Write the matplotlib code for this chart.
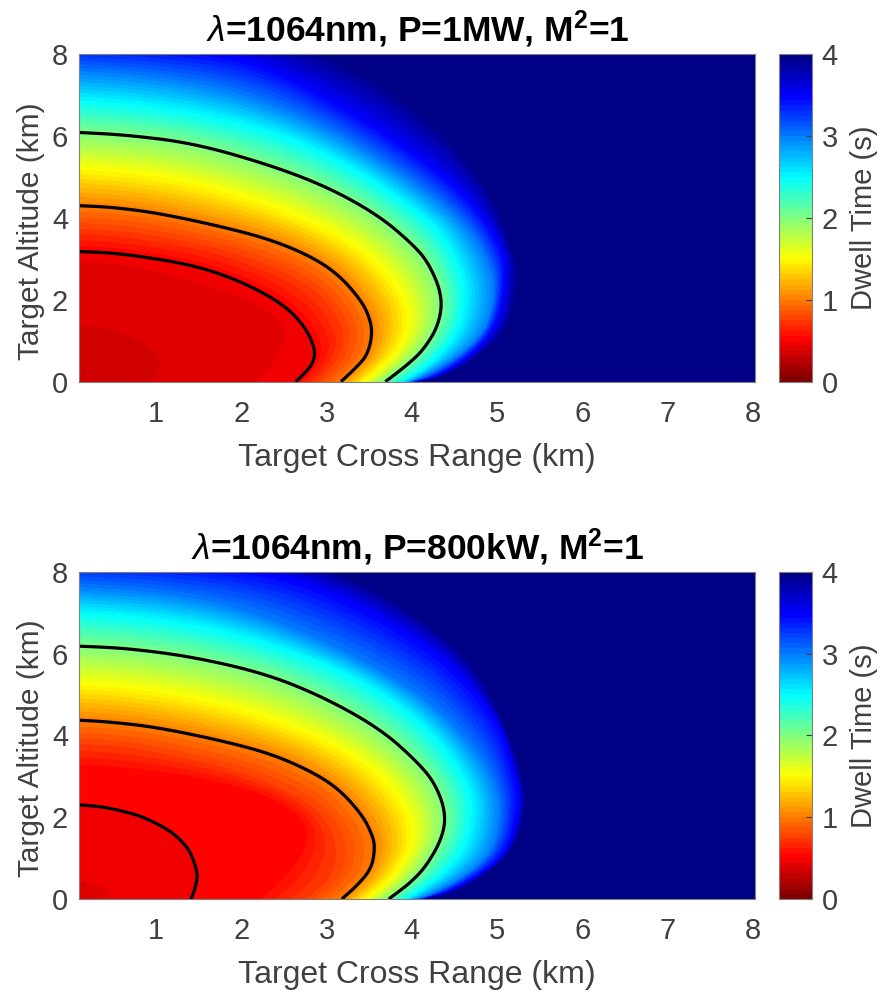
import numpy as np
import matplotlib
matplotlib.use("Agg")
from matplotlib import pyplot as plt
from matplotlib import cm
from matplotlib.colors import LinearSegmentedColormap, Normalize
import matplotlib.tri as mtri

plt.rcParams['font.family'] = ['Liberation Sans', 'DejaVu Sans']
plt.rcParams['mathtext.fontset'] = 'custom'
plt.rcParams['mathtext.rm'] = 'Liberation Sans:bold'
plt.rcParams['mathtext.it'] = 'Liberation Sans:italic'
plt.rcParams['mathtext.bf'] = 'Liberation Sans:bold'

# dwell time iso-curves, 13 stations each from the left edge
# round to the ground: cross range (km) and altitude (km)
top_x_0375 = [0.1, 0.25, 0.42, 0.6, 0.78, 0.92, 1.0, 1.04, 1.05, 1.04, 1.0, 0.98, 0.95]
top_y_0375 = [1.39, 1.36, 1.3, 1.2, 1.05, 0.88, 0.72, 0.55, 0.4, 0.27, 0.13, 0.07, 0.0]
top_x_04375 = [0.1, 0.4, 0.8, 1.3, 1.7, 2.05, 2.3, 2.48, 2.52, 2.47, 2.4, 2.3, 2.2]
top_y_04375 = [2.95, 2.92, 2.82, 2.55, 2.3, 2.05, 1.75, 1.45, 1.2, 0.85, 0.5, 0.25, 0.0]
top_x_05 = [0.1, 0.4, 0.8, 1.43, 1.9, 2.3, 2.55, 2.72, 2.82, 2.87, 2.83, 2.74, 2.64]
top_y_05 = [3.18, 3.16, 3.07, 2.85, 2.53, 2.13, 1.78, 1.4, 1.05, 0.7, 0.41, 0.2, 0.0]
top_x_075 = [0.1, 0.45, 0.9, 1.6, 2.1, 2.55, 2.85, 3.05, 3.17, 3.22, 3.15, 3.04, 2.9]
top_y_075 = [3.75, 3.72, 3.62, 3.35, 3.05, 2.65, 2.28, 1.85, 1.45, 1.1, 0.6, 0.3, 0.0]
top_x_1 = [0.1, 0.45, 1.0, 1.75, 2.35, 2.83, 3.15, 3.4, 3.5, 3.54, 3.48, 3.34, 3.17]
top_y_1 = [4.3, 4.27, 4.13, 3.8, 3.47, 3.05, 2.6, 2.0, 1.6, 1.18, 0.65, 0.33, 0.0]
top_x_15 = [0.1, 0.55, 1.2, 2.0, 2.7, 3.25, 3.6, 3.87, 3.95, 3.95, 3.8, 3.63, 3.44]
top_y_15 = [5.2, 5.14, 4.97, 4.55, 4.03, 3.45, 2.9, 2.2, 1.75, 1.2, 0.65, 0.32, 0.0]
top_x_2 = [0.1, 0.65, 1.43, 2.3, 3.0, 3.6, 4.0, 4.2, 4.36, 4.32, 4.14, 3.93, 3.69]
top_y_2 = [6.09, 6.03, 5.83, 5.32, 4.77, 4.08, 3.38, 2.9, 2.1, 1.4, 0.78, 0.38, 0.0]
top_x_25 = [0.1, 0.8, 1.7, 2.6, 3.4, 3.95, 4.32, 4.58, 4.64, 4.55, 4.28, 4.03, 3.9]
top_y_25 = [6.89, 6.8, 6.5, 5.98, 5.15, 4.35, 3.75, 2.8, 2.07, 1.19, 0.53, 0.15, 0.0]
top_x_3 = [0.1, 0.9, 1.9, 2.9, 3.7, 4.25, 4.7, 4.93, 4.98, 4.86, 4.55, 4.16, 4.0]
top_y_3 = [7.6, 7.5, 7.15, 6.35, 5.35, 4.55, 3.71, 2.8, 2.07, 1.19, 0.6, 0.12, 0.0]
top_x_35 = [0.1, 1.1, 2.2, 3.23, 4.0, 4.51, 4.86, 5.1, 5.1, 5.02, 4.75, 4.32, 4.05]
top_y_35 = [8.3, 8.2, 7.9, 6.72, 5.66, 4.85, 4.02, 3.14, 2.41, 1.43, 0.7, 0.12, 0.0]
top_x_4 = [0.1, 1.5, 2.5, 3.5, 4.2, 4.7, 5.0, 5.21, 5.27, 5.17, 4.86, 4.4, 4.1]
top_y_4 = [8.9, 8.7, 8.4, 7.6, 6.5, 5.4, 4.4, 3.14, 2.49, 1.34, 0.7, 0.12, 0.0]

bot_x_04375 = [0.1, 0.16, 0.22, 0.28, 0.34, 0.38, 0.4, 0.42, 0.43, 0.43, 0.44, 0.44, 0.44]
bot_y_04375 = [0.46, 0.45, 0.42, 0.38, 0.34, 0.29, 0.25, 0.2, 0.16, 0.12, 0.08, 0.04, 0.0]
bot_x_05 = [0.1, 0.25, 0.46, 0.7, 0.85, 1.05, 1.2, 1.33, 1.41, 1.49, 1.47, 1.44, 1.41]
bot_y_05 = [2.3, 2.28, 2.22, 2.1, 2.0, 1.8, 1.61, 1.35, 1.12, 0.63, 0.35, 0.15, 0.0]
bot_x_05625 = [0.1, 0.4, 0.9, 1.5, 2.0, 2.4, 2.65, 2.78, 2.78, 2.7, 2.55, 2.4, 2.25]
bot_y_05625 = [3.3, 3.27, 3.17, 3.0, 2.75, 2.45, 2.1, 1.75, 1.4, 1.0, 0.6, 0.3, 0.0]
bot_x_075 = [0.1, 0.45, 0.9, 1.6, 2.1, 2.55, 2.85, 3.02, 3.1, 3.13, 3.07, 2.95, 2.75]
bot_y_075 = [3.8, 3.77, 3.65, 3.35, 3.05, 2.65, 2.28, 1.85, 1.45, 1.1, 0.6, 0.3, 0.0]
bot_x_1 = [0.1, 0.45, 1.0, 1.75, 2.35, 2.83, 3.15, 3.42, 3.53, 3.57, 3.53, 3.36, 3.18]
bot_y_1 = [4.37, 4.33, 4.2, 3.88, 3.55, 3.11, 2.68, 2.05, 1.6, 1.28, 0.75, 0.33, 0.0]
bot_x_15 = [0.1, 0.55, 1.2, 2.0, 2.7, 3.25, 3.65, 3.9, 4.0, 4.0, 3.82, 3.67, 3.47]
bot_y_15 = [5.25, 5.2, 5.02, 4.65, 4.15, 3.6, 3.0, 2.3, 1.85, 1.25, 0.65, 0.32, 0.0]
bot_x_2 = [0.1, 0.65, 1.43, 2.3, 3.0, 3.65, 4.08, 4.28, 4.4, 4.36, 4.17, 3.97, 3.73]
bot_y_2 = [6.18, 6.13, 5.92, 5.5, 4.9, 4.13, 3.32, 2.8, 2.1, 1.5, 0.8, 0.37, 0.0]
bot_x_25 = [0.1, 0.8, 1.7, 2.6, 3.38, 4.0, 4.43, 4.7, 4.72, 4.63, 4.35, 4.07, 3.95]
bot_y_25 = [7.02, 6.92, 6.63, 6.08, 5.4, 4.55, 3.64, 2.66, 2.01, 1.2, 0.55, 0.15, 0.0]
bot_x_3 = [0.1, 0.9, 1.9, 2.9, 3.7, 4.3, 4.8, 5.0, 5.04, 4.95, 4.63, 4.2, 4.08]
bot_y_3 = [7.63, 7.55, 7.2, 6.4, 5.55, 4.7, 3.56, 2.74, 2.01, 1.12, 0.54, 0.07, 0.0]
bot_x_35 = [0.1, 1.3, 2.53, 3.38, 4.16, 4.55, 5.02, 5.2, 5.27, 5.2, 5.02, 4.51, 4.15]
bot_y_35 = [8.35, 8.25, 7.95, 7.23, 6.26, 5.6, 4.4, 3.2, 2.5, 1.5, 0.88, 0.22, 0.0]
bot_x_4 = [0.1, 1.5, 2.5, 3.5, 4.3, 4.8, 5.12, 5.27, 5.36, 5.3, 5.05, 4.6, 4.2]
bot_y_4 = [8.95, 8.75, 8.45, 7.75, 6.65, 5.65, 4.2, 3.3, 2.5, 1.6, 0.85, 0.2, 0.0]

top_levels = [0.375, 0.4375, 0.5, 0.75, 1.0, 1.5, 2.0, 2.5, 3.0, 3.5, 4.0]
top_xs = [top_x_0375, top_x_04375, top_x_05, top_x_075, top_x_1, top_x_15, top_x_2, top_x_25, top_x_3, top_x_35, top_x_4]
top_ys = [top_y_0375, top_y_04375, top_y_05, top_y_075, top_y_1, top_y_15, top_y_2, top_y_25, top_y_3, top_y_35, top_y_4]
top_corner = 0.33

bot_levels = [0.4375, 0.5, 0.5625, 0.75, 1.0, 1.5, 2.0, 2.5, 3.0, 3.5, 4.0]
bot_xs = [bot_x_04375, bot_x_05, bot_x_05625, bot_x_075, bot_x_1, bot_x_15, bot_x_2, bot_x_25, bot_x_3, bot_x_35, bot_x_4]
bot_ys = [bot_y_04375, bot_y_05, bot_y_05625, bot_y_075, bot_y_1, bot_y_15, bot_y_2, bot_y_25, bot_y_3, bot_y_35, bot_y_4]
bot_corner = 0.41

titles = [r'$\lambda$=1064nm, P=1MW, M$^{2}$=1', r'$\lambda$=1064nm, P=800kW, M$^{2}$=1']
line_levels = [0.5, 1, 2]
x_ticks = [1, 2, 3, 4, 5, 6, 7, 8]
y_ticks = [0, 2, 4, 6, 8]
cbar_ticks = [0, 1, 2, 3, 4]

W, H = 881.0, 993.0
GRAY = '#404040'
EDGE = '#808080'

# matlab style jet, flipped
jet_r = LinearSegmentedColormap.from_list('jet_r_m', [
    (0.0, (0.5, 0, 0)), (0.125, (1, 0, 0)), (0.375, (1, 1, 0)),
    (0.625, (0, 1, 1)), (0.875, (0, 0, 1)), (1.0, (0, 0, 0.53))], N=64)
norm = Normalize(0, 4)
levels = np.arange(65) * 0.0625
levels[-1] = 5.0
fill_colors = [jet_r(i) for i in range(64)]


def px_axes(left, top, right, bottom):
    return fig.add_axes([left / W, 1 - bottom / H, (right - left) / W, (bottom - top) / H])


def round_off(p, passes=3):
    # corner cutting along a curve so the mesh has no visible kinks, ends stay put
    p = np.asarray(p, dtype=float)
    for _ in range(passes):
        mid = []
        for a, b in zip(p[:-1], p[1:]):
            mid += [0.75 * a + 0.25 * b, 0.25 * a + 0.75 * b]
        p = np.array([p[0]] + mid[1:-1] + [p[-1]])
    return p


def curve_mesh(curve_levels, curve_xs, curve_ys, corner):
    # mesh rings between neighbouring curves, node 0 is the corner at the origin
    fine_x = [round_off(c) for c in curve_xs]
    fine_y = [round_off(c) for c in curve_ys]
    n_curves, n_st = len(curve_levels), len(fine_x[0])
    xs = np.concatenate([[curve_xs[0][0]], np.ravel(fine_x)])
    ys = np.concatenate([[curve_ys[0][-1]], np.ravel(fine_y)])
    zs = np.concatenate([[corner], np.repeat(curve_levels, n_st)])
    tris = []
    for j in range(n_st - 1):
        tris.append([0, 1 + j, 2 + j])
        for i in range(n_curves - 1):
            a = 1 + i * n_st + j
            b = a + 1
            c = a + n_st
            d = c + 1
            tris += [[a, c, b], [b, c, d]]
    return mtri.Triangulation(xs, ys, tris), zs


def draw_panel(ax, cax, curve_levels, curve_xs, curve_ys, corner, title):
    tri, zs = curve_mesh(curve_levels, curve_xs, curve_ys, corner)

    ax.set_facecolor(jet_r(63))
    ax.tricontourf(tri, zs, levels=levels, colors=fill_colors)
    ax.tricontour(tri, zs, levels=line_levels, colors='k', linewidths=2.3)
    ax.set_xlim(0.1, 8.03)
    ax.set_ylim(0, 8)
    ax.set_xticks(x_ticks)
    ax.set_yticks(y_ticks)
    ax.tick_params(axis='x', length=0, labelsize=21, labelcolor=GRAY, pad=13)
    ax.tick_params(axis='y', length=0, labelsize=21, labelcolor=GRAY, pad=8)
    ax.set_xlabel('Target Cross Range (km)', fontsize=23, color=GRAY, labelpad=11)
    ax.set_ylabel('Target Altitude (km)', fontsize=21.5, color=GRAY)
    ax.yaxis.set_label_coords(-0.05, 0.46)
    ax.set_title(title, fontsize=25.5, fontweight='bold', color='k', pad=9)
    for s in ax.spines.values():
        s.set_color(EDGE)
        s.set_linewidth(0.8)

    cb = fig.colorbar(cm.ScalarMappable(norm=norm, cmap=jet_r), cax=cax)
    cb.set_ticks(cbar_ticks)
    cb.ax.tick_params(direction='in', length=4, width=0.8, color=GRAY, labelsize=21, labelcolor=GRAY, pad=7)
    cb.set_label('Dwell Time (s)', fontsize=21, color=GRAY, labelpad=9)
    cb.outline.set_edgecolor(EDGE)
    cb.outline.set_linewidth(0.8)


fig = plt.figure(figsize=(W / 100, H / 100), dpi=100)

ax1 = px_axes(79.3, 54.3, 755.3, 381.7)
cax1 = px_axes(779, 54.3, 812, 381.7)
draw_panel(ax1, cax1, top_levels, top_xs, top_ys, top_corner, titles[0])

ax2 = px_axes(79.3, 571.7, 755.3, 899)
cax2 = px_axes(779, 571.7, 812, 899)
draw_panel(ax2, cax2, bot_levels, bot_xs, bot_ys, bot_corner, titles[1])

fig.savefig('out.png', dpi=100)
